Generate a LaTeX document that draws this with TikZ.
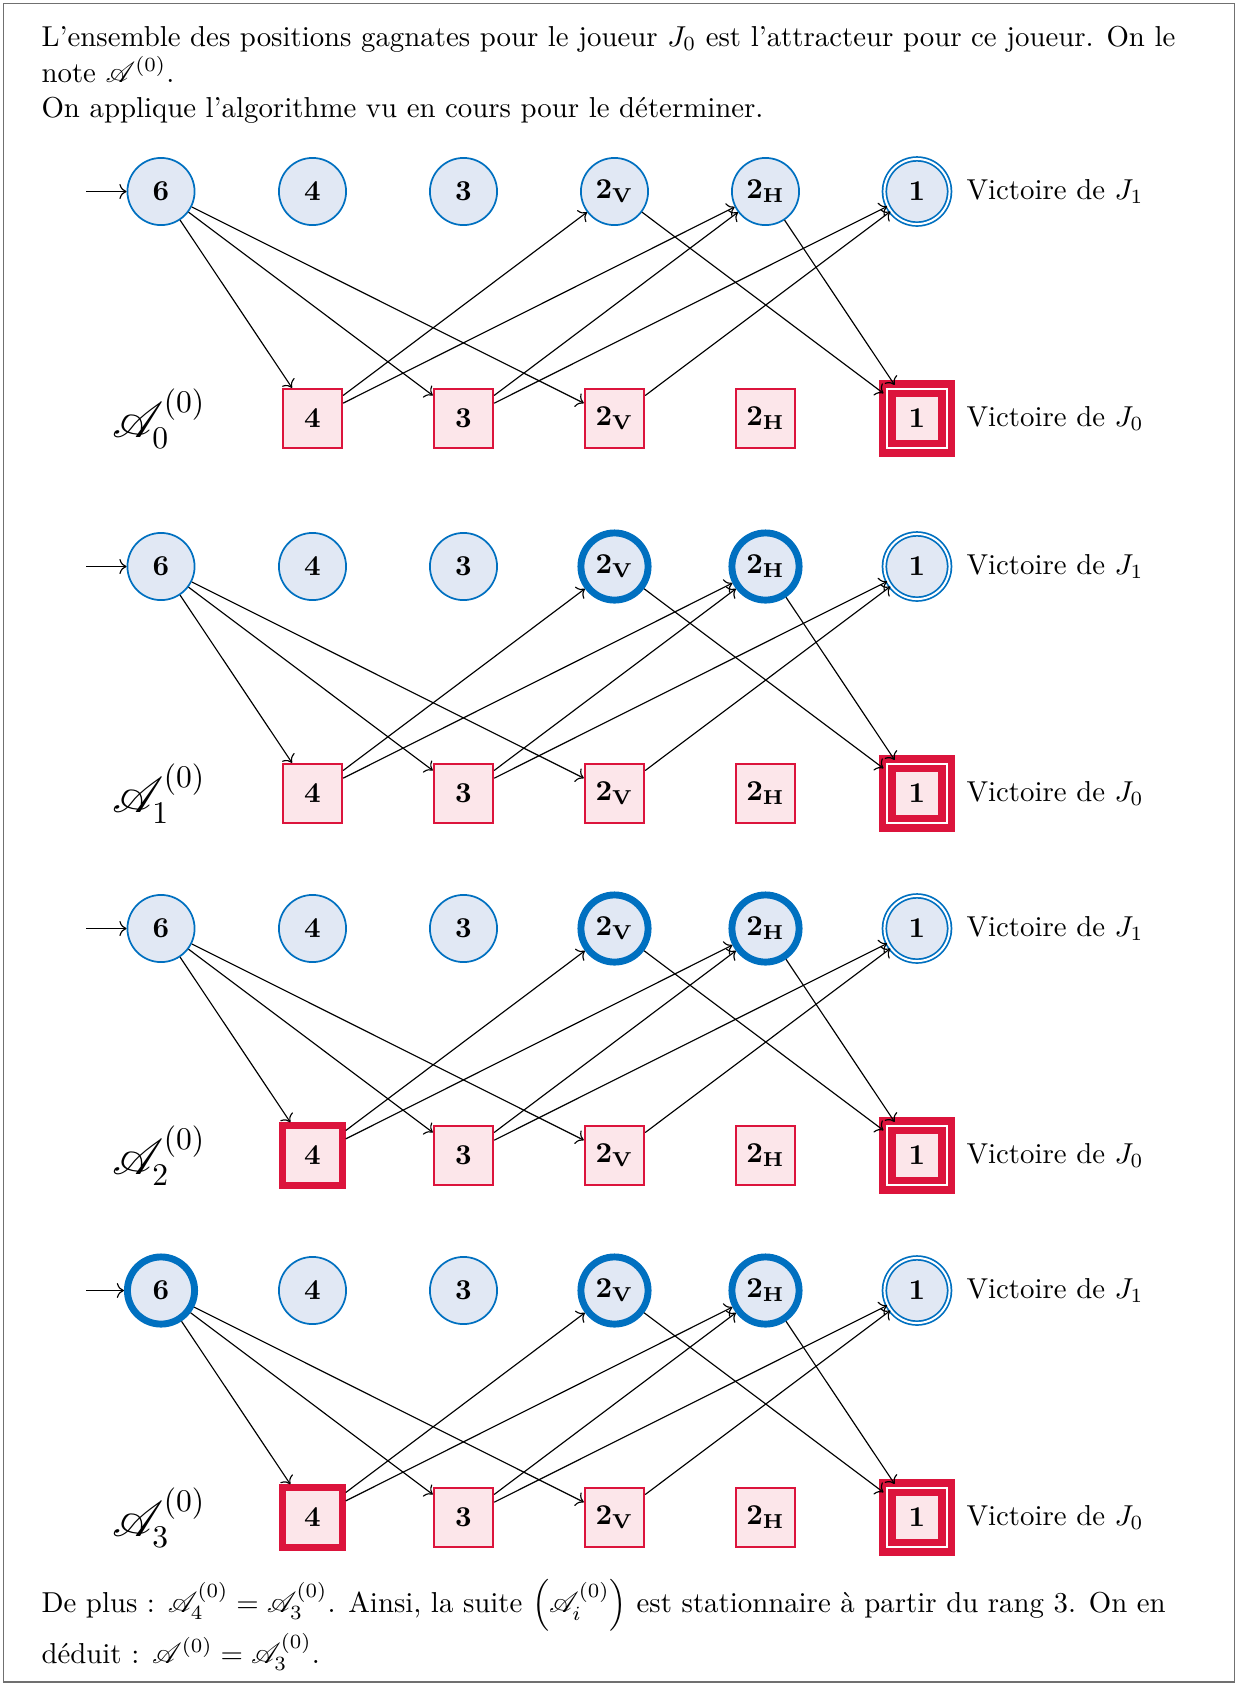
\documentclass[tikz,border=0pt]{standalone}
\usepackage{amsmath}
\usepackage{mathrsfs}
\usetikzlibrary{arrows.meta}
\definecolor{jblue}{HTML}{0070C0}
\definecolor{jbluefill}{HTML}{E1E8F4}
\definecolor{jred}{HTML}{DC143C}
\definecolor{jpink}{HTML}{FCE6EA}
\definecolor{framegray}{HTML}{707070}
\tikzset{
  posn/.style={circle, draw=jblue, fill=jbluefill, line width=0.6pt, minimum size=23.3pt, inner sep=0pt},
  posnw/.style={posn, line width=2.4pt},
  posnacc/.style={posn, double=white, double distance=0.7pt, line width=0.6pt, minimum size=22.6pt},
  sqn/.style={rectangle, draw=jred, fill=jpink, line width=0.6pt, minimum size=20.7pt, inner sep=0pt},
  sqnw/.style={sqn, line width=2.4pt},
  sqnfin/.style={sqn, line width=2.6pt, double=white, double distance=0.6pt},
  edg/.style={->, black, line width=0.4pt},
  txt/.style={anchor=base west, inner sep=0pt},
  vic/.style={anchor=west, inner sep=0pt},
}
\begin{document}
\begin{tikzpicture}[x=0.347pt, y=-0.347pt]
\useasboundingbox (0,0) rectangle (1236,1684);
\draw[framegray, line width=0.5pt] (3.5,3.5) rectangle (1234.5,1682);

\node[txt] (t1) at (41,46) {L'ensemble des positions gagnates pour le joueur $J_0$ est l'attracteur pour ce joueur. On le};
\node[txt] (t2) at (41,82) {note $\mathscr{A}^{(0)}$.};
\node[txt] (t3) at (41,117) {On applique l'algorithme vu en cours pour le déterminer.};

\foreach \b/\yt/\yb in {0/191.5/418.5, 1/566.5/793.5, 2/928.5/1155.5, 3/1290.5/1517.5}{
  \ifnum\b>0 \def\stV{posnw}\else\def\stV{posn}\fi
  \ifnum\b>1 \def\stF{sqnw}\else\def\stF{sqn}\fi
  \ifnum\b>2 \def\stS{posnw}\else\def\stS{posn}\fi
  \node[\stS] (c6-\b) at (161,\yt) {$\mathbf{6}$};
  \node[posn] (c4-\b) at (312.5,\yt) {$\mathbf{4}$};
  \node[posn] (c3-\b) at (463.5,\yt) {$\mathbf{3}$};
  \node[\stV] (cv-\b) at (614.5,\yt) {$\mathbf{2_{V}}$};
  \node[\stV] (ch-\b) at (765.5,\yt) {$\mathbf{2_{H}}$};
  \node[posnacc] (c1-\b) at (917,\yt) {$\mathbf{1}$};
  \node[vic] (v1-\b) at (966,\yt) {Victoire de $J_1$};
  \coordinate (in-\b) at (86,\yt);

  \node (lab-\b) at (159,\yb) {\fontsize{16}{19}\selectfont $\mathscr{A}_{\b}^{(0)}$};
  \node[\stF] (s4-\b) at (312.5,\yb) {$\mathbf{4}$};
  \node[sqn] (s3-\b) at (463.5,\yb) {$\mathbf{3}$};
  \node[sqn] (sv-\b) at (614.5,\yb) {$\mathbf{2_{V}}$};
  \node[sqn] (sh-\b) at (765.5,\yb) {$\mathbf{2_{H}}$};
  \node[sqnfin] (s1-\b) at (917,\yb) {$\mathbf{1}$};
  \node[vic] (v0-\b) at (966,\yb) {Victoire de $J_0$};

  \draw[edg] (in-\b) -- (c6-\b);
  \draw[edg] (c6-\b) -- (s4-\b);
  \draw[edg] (c6-\b) -- (s3-\b);
  \draw[edg] (c6-\b) -- (sv-\b);
  \draw[edg] (s4-\b) -- (cv-\b);
  \draw[edg] (s4-\b) -- (ch-\b);
  \draw[edg] (s3-\b) -- (ch-\b);
  \draw[edg] (s3-\b) -- (c1-\b);
  \draw[edg] (sv-\b) -- (c1-\b);
  \draw[edg] (cv-\b) -- (s1-\b);
  \draw[edg] (ch-\b) -- (s1-\b);
}

\node[txt] (b1) at (41,1612) {De plus : $\mathscr{A}_4^{(0)} = \mathscr{A}_3^{(0)}$. Ainsi, la suite $\left(\mathscr{A}_i^{(0)}\right)$ est stationnaire à partir du rang 3. On en};
\node[txt] (b2) at (41,1663) {déduit : $\mathscr{A}^{(0)} = \mathscr{A}_3^{(0)}$.};
\end{tikzpicture}
\end{document}
